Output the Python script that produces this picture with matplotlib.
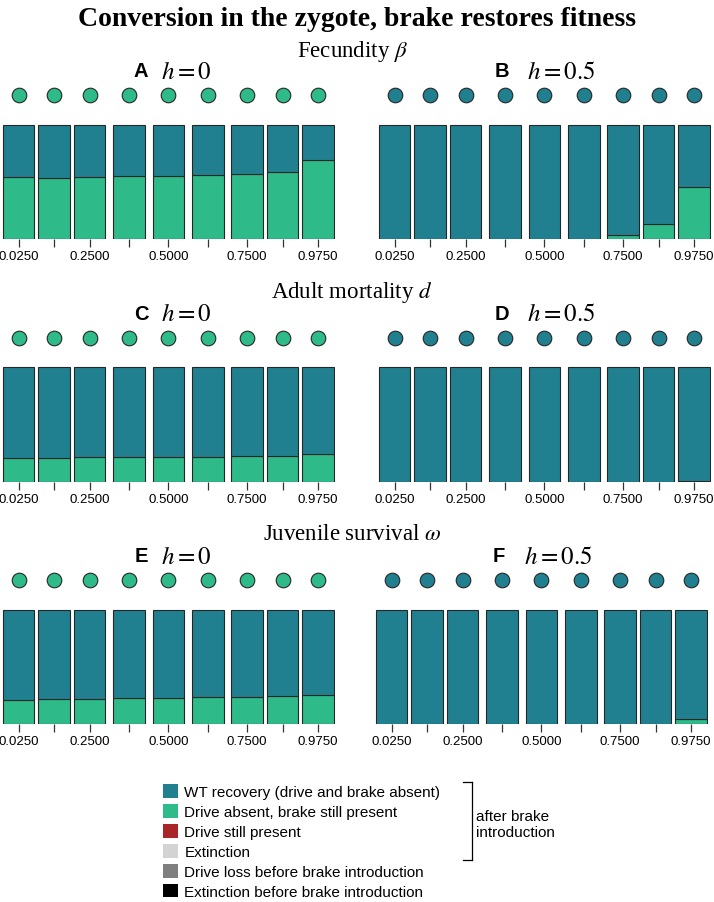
import matplotlib.pyplot as plt
from matplotlib.lines import Line2D
from matplotlib.patches import Patch

plt.rcParams['mathtext.fontset'] = 'stix'

# parameter values (x positions) and tick labels
x_vals = [0.025, 0.1375, 0.25, 0.375, 0.5, 0.625, 0.75, 0.8625, 0.975]
tick_labels = ['0.0250', '', '0.2500', '', '0.5000', '', '0.7500', '', '0.9750']

# fraction of runs ending with "drive absent, brake still present"
brake_A = [0.547, 0.538, 0.541, 0.549, 0.549, 0.558, 0.567, 0.587, 0.692]
brake_B = [0.0, 0.0, 0.0, 0.0, 0.003, 0.005, 0.038, 0.131, 0.453]
brake_C = [0.204, 0.207, 0.213, 0.213, 0.213, 0.219, 0.222, 0.227, 0.239]
brake_D = [0.0, 0.0, 0.0, 0.0, 0.0, 0.0, 0.0, 0.0, 0.005]
brake_E = [0.209, 0.218, 0.224, 0.227, 0.233, 0.235, 0.238, 0.244, 0.253]
brake_F = [0.0, 0.0, 0.0, 0.0, 0.0, 0.0, 0.0, 0.0, 0.044]

# deterministic outcome (the dots above the bars)
det_A = 'brake'
det_B = 'wt'
det_C = 'brake'
det_D = 'wt'
det_E = 'brake'
det_F = 'wt'

colors = {
    'wt': '#21808f',
    'brake': '#2ebb89',
    'drive': '#a82528',
    'ext': '#d3d3d3',
    'loss': '#7f7f7f',
    'ext_before': '#000000',
}
legend_labels = [
    ('wt', 'WT recovery (drive and brake absent)'),
    ('brake', 'Drive absent, brake still present'),
    ('drive', 'Drive still present'),
    ('ext', 'Extinction'),
    ('loss', 'Drive loss before brake introduction'),
    ('ext_before', 'Extinction before brake introduction'),
]

W, H = 714, 903
fig = plt.figure(figsize=(W / 100, H / 100), dpi=100)


def panel(left_px, bottom_px, brake, det, letter, hval, lab_x, h_x):
    ax = fig.add_axes([left_px / W, 1 - bottom_px / H, 334 / W, 152.6 / H])
    wt = [1 - b for b in brake]
    ax.bar(x_vals, brake, width=0.1, color=colors['brake'],
           edgecolor='#262626', linewidth=0.8)
    ax.bar(x_vals, wt, bottom=brake, width=0.1, color=colors['wt'],
           edgecolor='#262626', linewidth=0.8)
    ax.plot(x_vals, [1.255] * len(x_vals), 'o', color=colors[det],
            markersize=10.5, markeredgecolor='#262626', markeredgewidth=0.8)
    ax.set_xlim(-0.03, 1.03)
    ax.set_ylim(0, 1.33)
    for s in ax.spines.values():
        s.set_visible(False)
    ax.set_yticks([])
    ax.set_xticks(x_vals)
    ax.set_xticklabels(tick_labels, fontfamily='Liberation Sans', fontsize=9.5)
    ax.tick_params(axis='x', length=6, width=0.9, color='#333333', pad=2)
    # panel label
    top_px = bottom_px - 114.7
    ly = 1 - (top_px - 54) / H
    fig.text(lab_x / W, ly, letter, fontfamily='Liberation Sans',
             fontweight='bold', fontsize=14.5, ha='center', va='center')
    fig.text(h_x / W, ly, r'$h=%s$' % hval, fontsize=18,
             ha='left', va='center')
    return ax


panel(1.4, 240.3, brake_A, det_A, 'A', '0', 141, 161)
panel(377.4, 240.3, brake_B, det_B, 'B', '0.5', 502, 527)
panel(1.4, 482.7, brake_C, det_C, 'C', '0', 141, 161)
panel(377.4, 482.7, brake_D, det_D, 'D', '0.5', 502, 527)
panel(1.4, 725.3, brake_E, det_E, 'E', '0', 141, 161)
panel(374.4, 725.3, brake_F, det_F, 'F', '0.5', 499, 524)

fig.text(357 / W, 1 - 20 / H, 'Conversion in the zygote, brake restores fitness',
         fontfamily='Liberation Serif', fontweight='bold', fontsize=20,
         ha='center', va='center')
for y_px, lab in [(51, r'Fecundity $\beta$'), (293, r'Adult mortality $d$'),
                  (535, r'Juvenile survival $\omega$')]:
    fig.text(352 / W, 1 - y_px / H, lab, fontfamily='Liberation Serif',
             fontsize=16.5, ha='center', va='center')

handles = [Patch(facecolor=colors[k], edgecolor='none') for k, _ in legend_labels]
fig.legend(handles, [t for _, t in legend_labels], loc='upper left',
           bbox_to_anchor=(163 / W, 1 - 785 / H), frameon=False,
           prop={'family': 'Liberation Sans', 'size': 11},
           handlelength=1.0, handleheight=1.0, handletextpad=0.4,
           labelspacing=0.32, borderpad=0, borderaxespad=0)

# bracket for "after brake introduction"
bx, b_top, b_bot, bl = 472.3, 783.3, 860.7, 463
for xs, ys in [([bx, bx], [b_top, b_bot]), ([bl, bx], [b_top, b_top]),
               ([bl, bx], [b_bot, b_bot])]:
    fig.add_artist(Line2D([x / W for x in xs], [1 - y / H for y in ys],
                          color='black', linewidth=0.9))
fig.text(476 / W, 1 - 825 / H, 'after brake\nintroduction',
         fontfamily='Liberation Sans', fontsize=11, ha='left', va='center',
         linespacing=1.1)

fig.savefig('out.png', dpi=100)
